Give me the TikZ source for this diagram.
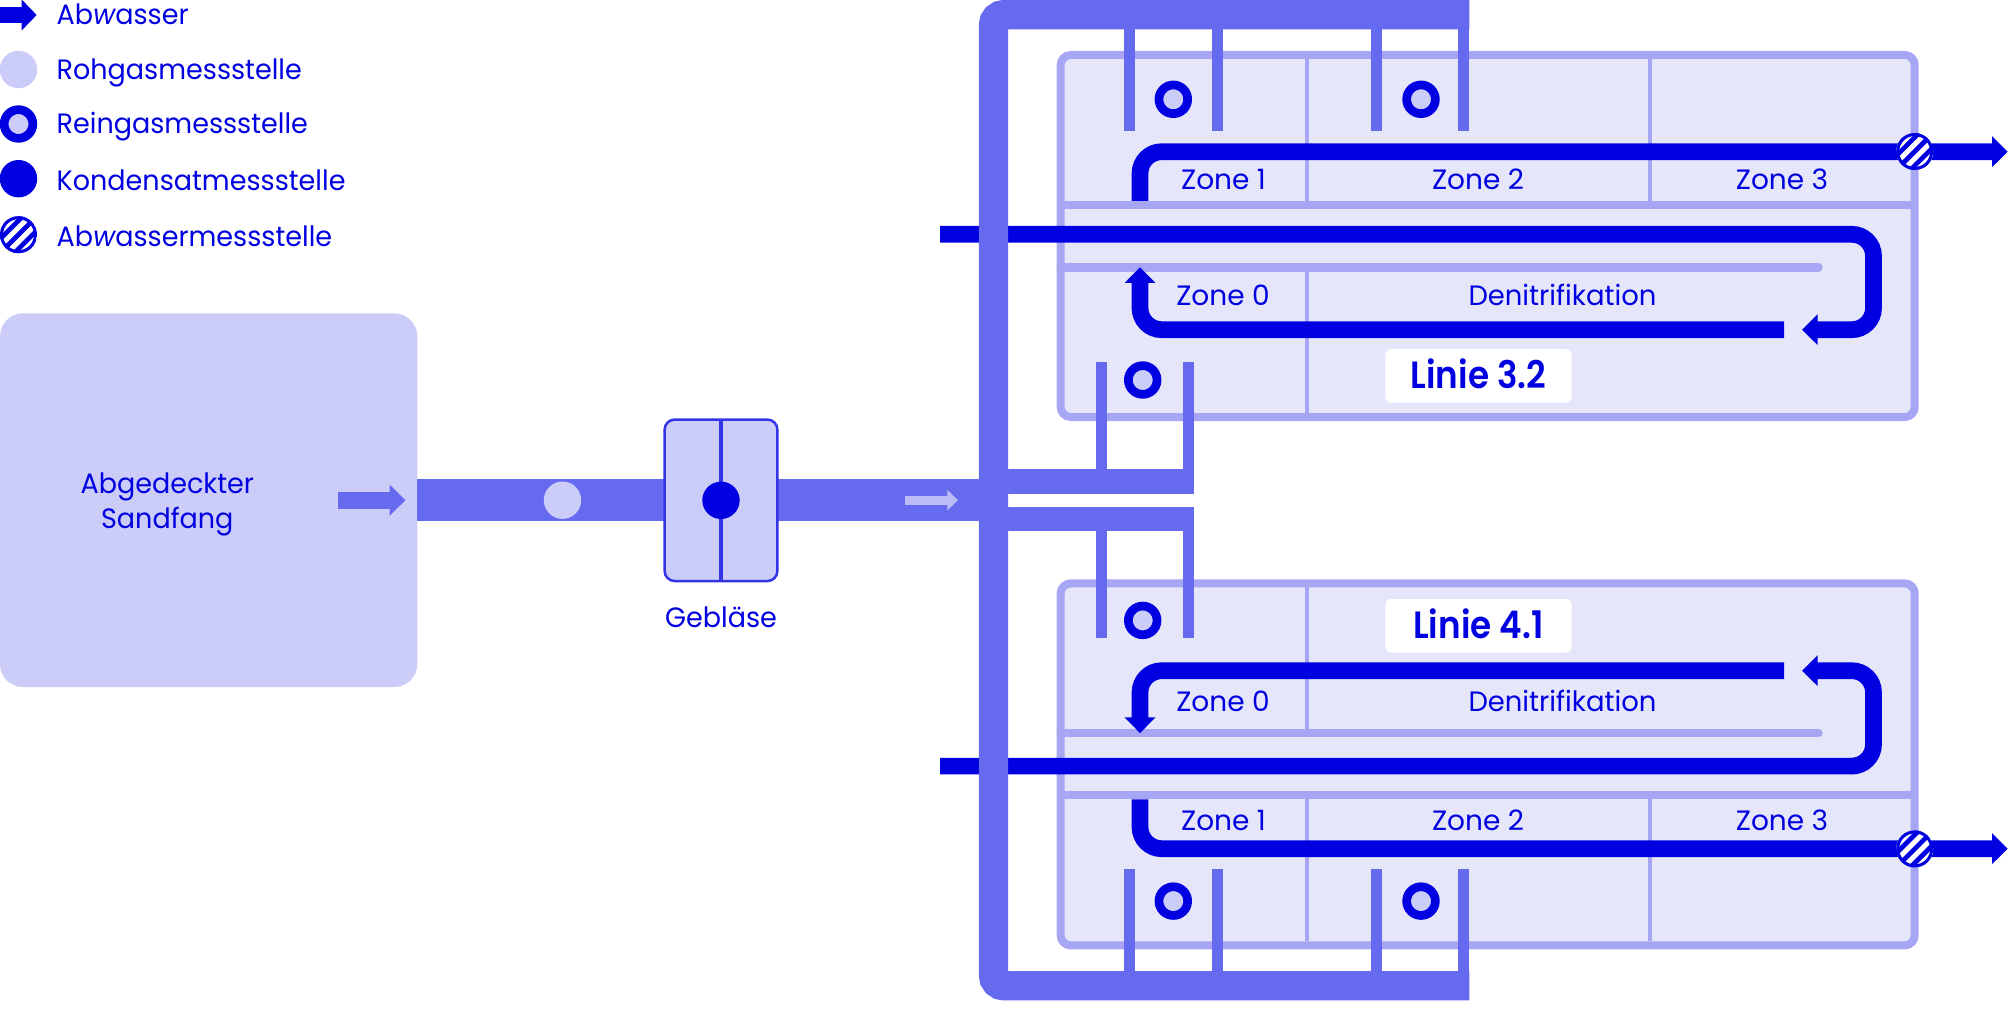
\documentclass[tikz,border=0pt]{standalone}
\usepackage{fontspec}
\setmainfont{Poppins}
\newfontfamily\legfont{Poppins}[FakeStretch=0.965]
\newfontfamily\denifont{Poppins}[FakeStretch=0.98]
\newfontfamily\titelfont{Poppins SemiBold}[FakeStretch=0.9]
\usetikzlibrary{arrows.meta}
\definecolor{dark}{HTML}{0000E1}
\definecolor{pipec}{HTML}{666AEF}
\definecolor{rimc}{HTML}{A6A6F5}
\definecolor{lightc}{HTML}{CCCCF9}
\definecolor{palec}{HTML}{E6E6FB}
\definecolor{gebc}{HTML}{3333E8}
\definecolor{arrowlight}{HTML}{BBBBF5}
\tikzset{
  x=0.5pt,y=-0.5pt,
  txt/.style={text=dark,anchor=base,inner sep=0pt,font=\fontsize{14}{16}\selectfont},
  legtxt/.style={text=dark,anchor=base,inner sep=0pt,font=\fontsize{14}{16}\legfont},
  denitxt/.style={text=dark,anchor=base,inner sep=0pt,font=\fontsize{14}{16}\denifont},
  legendtxt/.style={legtxt,anchor=base west},
  titel/.style={text=dark,anchor=base,inner sep=0pt,font=\fontsize{19}{22}\titelfont},
  tafel/.style={fill=white,rounded corners=3pt,minimum width=93.2pt,minimum height=26.85pt,inner sep=0pt,outer sep=0pt},
  becken/.style={fill=palec,draw=rimc,line width=4pt,rounded corners=5pt,minimum width=427pt,minimum height=181pt,inner sep=0pt,outer sep=0pt},
  teiler/.style={draw=rimc,line width=2pt},
  quer/.style={draw=rimc,line width=4pt},
  querrund/.style={draw=rimc,line width=4.2pt,line cap=round},
  wasser/.style={draw=dark,line width=8.35pt,rounded corners=10.85pt},
  wasserpfeil/.style={wasser,-{Triangle[length=7.85pt,width=15pt]}},
  rahmen/.style={draw=pipec,line width=14.65pt,rounded corners=5.2pt},
  stich/.style={draw=pipec,line width=5.5pt},
  ast/.style={draw=pipec,line width=12.4pt},
  haupt/.style={draw=pipec,line width=20.85pt},
  roh/.style={circle,fill=lightc,minimum size=18.7pt,inner sep=0pt,outer sep=0pt},
  rein/.style={circle,fill=lightc,draw=dark,line width=4.35pt,minimum size=14.35pt,inner sep=0pt,outer sep=0pt},
  kond/.style={circle,fill=dark,minimum size=18.7pt,inner sep=0pt,outer sep=0pt},
  schraffur/.style={circle,fill=dark,minimum size=18.5pt,inner sep=0pt,outer sep=0pt,
    path picture={
      \foreach \d in {-7.5,-2.5,2.5,7.5}{
        \draw[white,line width=2.5pt] ([xshift={-10pt-0.707*\d pt},yshift={-10pt+0.707*\d pt}]path picture bounding box.center) -- ++(20pt,20pt);
      }
      \draw[dark,line width=1.5pt] (path picture bounding box.center) circle (8.5pt);
    }},
}
\newcommand\werk[1]{%
  \node[becken] (#1box) at (1487.7,236) {};
  \coordinate (#1a) at (1307,59);
  \coordinate (#1b) at (1307,201);
  \coordinate (#1c) at (1307,263);
  \coordinate (#1d) at (1307,413);
  \coordinate (#1e) at (1650,59);
  \coordinate (#1f) at (1650,201);
  \draw[teiler] (#1a) -- (#1b) (#1c) -- (#1d) (#1e) -- (#1f);
  \coordinate (#1g) at (1060.7,205);
  \coordinate (#1h) at (1914.7,205);
  \coordinate (#1i) at (1060.7,267.5);
  \coordinate (#1j) at (1818.5,267.5);
  \draw[quer] (#1g) -- (#1h);
  \draw[querrund] (#1i) -- (#1j);
  % effluent line
  \coordinate (#1k) at (1140,201);
  \coordinate (#1l) at (1140,151.7);
  \coordinate (#1m) at (2007.7,151.7);
  \draw[wasserpfeil] (#1k) -- (#1l) -- (#1m);
  % influent line
  \coordinate (#1n) at (940,234.3);
  \coordinate (#1o) at (1873.5,234.3);
  \coordinate (#1p) at (1873.5,329.7);
  \coordinate (#1q) at (1802,329.7);
  \draw[wasserpfeil] (#1n) -- (#1o) -- (#1p) -- (#1q);
  % return
  \coordinate (#1r) at (1784,329.7);
  \coordinate (#1s) at (1140,329.7);
  \coordinate (#1t) at (1140,267.3);
  \draw[wasserpfeil] (#1r) -- (#1s) -- (#1t);
  % air stubs
  \foreach \sx [count=\si] in {1129.7,1217.7,1376.2,1463.8}{
    \coordinate (#1st\si) at (\sx,14);
    \coordinate (#1en\si) at (\sx,131);
    \draw[stich] (#1st\si) -- (#1en\si);
  }
  \foreach \sx [count=\si] in {1101,1188.7}{
    \coordinate (#1sq\si) at (\sx,481.5);
    \coordinate (#1eq\si) at (\sx,362);
    \draw[stich] (#1sq\si) -- (#1eq\si);
  }
  \coordinate (#1fa) at (1469.3,14.65);
  \coordinate (#1fb) at (993.5,14.65);
  \coordinate (#1fc) at (993.5,500.2);
  \draw[rahmen] (#1fa) -- (#1fb) -- (#1fc);
  \coordinate (#1ba) at (993.5,481.5);
  \coordinate (#1bb) at (1194,481.5);
  \draw[ast] (#1ba) -- (#1bb);
  \node[rein] (#1r1) at (1173.3,99.3) {};
  \node[rein] (#1r2) at (1421,99.3) {};
  \node[rein] (#1r3) at (1142.7,380) {};
}
\begin{document}
\begin{tikzpicture}
\useasboundingbox (0,0) rectangle (2008,1032);
% legend
\coordinate (la) at (0,15);
\coordinate (lb) at (36.7,15);
\draw[wasser,-{Triangle[length=7.5pt,width=15pt]}] (la) -- (lb);
\node[roh] (l2) at (18.5,69.5) {};
\node[rein] (l3) at (18.5,124) {};
\node[kond] (l4) at (18.5,178.7) {};
\node[schraffur] (l5) at (18.5,234.7) {};
\node[legendtxt] (t1) at (56.3,25) {Ab{\itshape w}asser};
\node[legendtxt] (t2) at (56.3,79.3) {Rohgasmessstelle};
\node[legendtxt] (t3) at (56.3,133.3) {Reingasmessstelle};
\node[legendtxt] (t4) at (56.3,190.7) {Kondensatmessstelle};
\node[legendtxt] (t5) at (56.3,246.7) {Ab{\itshape w}assermessstelle};
% sand trap
\node[fill=lightc,rounded corners=11.5pt,minimum width=208.65pt,minimum height=186.85pt,inner sep=0pt,outer sep=0pt] (sand) at (208.65,500.2) {};
\node[legtxt] (s1) at (167.3,493.3) {Abgedeckter};
\node[legtxt] (s2) at (167.3,528) {Sandfang};
\coordinate (sa) at (338.4,500.2);
\coordinate (sb) at (405.4,500.2);
\draw[draw=pipec,line width=8.35pt,-{Triangle[length=7.85pt,width=15pt]}] (sa) -- (sb);
% plant lines
\begin{scope}
\werk{u}
\end{scope}
\begin{scope}[shift={(0,1000.4)},yscale=-1]
\werk{v}
\end{scope}
% main pipe
\coordinate (pe) at (993.5,500.2);
\draw[haupt] (sand.east) -- (pe);
\node[roh] (rg) at (562.5,500.2) {};
% blower
\node[fill=lightc,draw=gebc,line width=1.25pt,rounded corners=5pt,minimum width=56.35pt,minimum height=80.75pt,inner sep=0pt,outer sep=0pt] (geb) at (721,500.3) {};
\draw[gebc,line width=2pt] (geb.north) -- (geb.south);
\node[kond] (kg) at (geb.center) {};
\node[legtxt] (gt) at (721,627.3) {Gebläse};
\coordinate (ga) at (905,500.2);
\coordinate (gb) at (958,500.2);
\draw[draw=arrowlight,line width=4.35pt,-{Triangle[length=5.35pt,width=10pt]}] (ga) -- (gb);
% sampling points
\node[schraffur] (h1) at (1914.7,151.5) {};
\node[schraffur] (h2) at (1914.7,848.9) {};
% labels
\node[tafel] (tu) at (1478.5,375.85) {};
\node[tafel] (tl) at (1478.5,625.85) {};
\node[titel] (lu) at (1478.5,388.3) {Linie 3.2};
\node[titel] (ll) at (1478.5,638.3) {Linie 4.1};
% zones
\node[txt] (z1) at (1223.5,189.3) {Zone 1};
\node[txt] (z2) at (1478,189.3) {Zone 2};
\node[txt] (z3) at (1782,189.3) {Zone 3};
\node[txt] (z0) at (1223,305.3) {Zone 0};
\node[denitxt] (dn) at (1562.5,305.3) {Denitrifikation};
\node[txt] (z4) at (1223.5,830.3) {Zone 1};
\node[txt] (z5) at (1478,830.3) {Zone 2};
\node[txt] (z6) at (1782,830.3) {Zone 3};
\node[txt] (z7) at (1223,711.5) {Zone 0};
\node[denitxt] (dm) at (1562.5,711.5) {Denitrifikation};
\end{tikzpicture}
\end{document}
